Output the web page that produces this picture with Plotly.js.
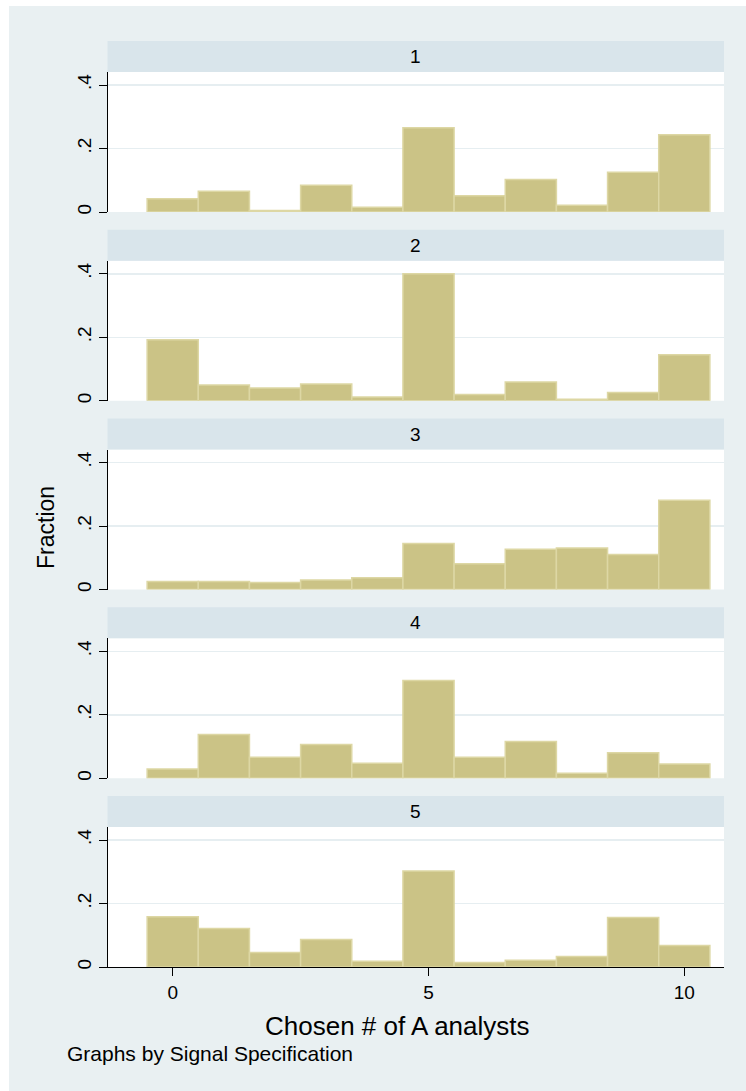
<!DOCTYPE html>
<html>
<head>
<meta charset="utf-8">
<script src="https://cdn.plot.ly/plotly-3.0.1.min.js"></script>
<style>
  html, body { margin: 0; padding: 0; background: #ffffff; }
  #chart { width: 746px; height: 1091px; }
</style>
</head>
<body>
<div id="chart"></div>
<script>
// ---- Data ----
const panelLabels = ["1", "2", "3", "4", "5"];
const chosenA = [0, 1, 2, 3, 4, 5, 6, 7, 8, 9, 10];
const fracSpec1 = [0.042, 0.065, 0.005, 0.084, 0.015, 0.265, 0.051, 0.102, 0.021, 0.125, 0.243];
const fracSpec2 = [0.192, 0.050, 0.040, 0.053, 0.012, 0.400, 0.020, 0.059, 0.005, 0.026, 0.145];
const fracSpec3 = [0.025, 0.025, 0.022, 0.030, 0.037, 0.145, 0.081, 0.127, 0.131, 0.110, 0.281];
const fracSpec4 = [0.029, 0.138, 0.066, 0.106, 0.047, 0.308, 0.066, 0.116, 0.016, 0.080, 0.045];
const fracSpec5 = [0.158, 0.121, 0.046, 0.087, 0.018, 0.302, 0.014, 0.021, 0.033, 0.156, 0.068];
const yTickVals = [0, 0.2, 0.4];
const yTickText = ["0", ".2", ".4"];
const xTickVals = [0, 5, 10];
const xTickText = ["0", "5", "10"];
const xTitle = "Chosen # of A analysts";
const yTitle = "Fraction";
const noteText = "Graphs by Signal Specification";

const series = [fracSpec1, fracSpec2, fracSpec3, fracSpec4, fracSpec5];

// ---- Layout geometry (pixels) ----
const W = 746, H = 1091;
const fx = x => x / W;
const fy = y => 1 - y / H;
const plotL = 108, plotR = 724;
const zero0 = 212, step = 188.75, plotH = 140, headH = 31;

const BG = "#e9f0f2";
const HEAD = "#d9e5eb";
const BAR = "#cbc386";
const BAR_LINE = "#ddd7a4";
const GRID = "#e6eef1";
const FONT = "Liberation Sans, Arial, Helvetica, sans-serif";

const data = [];
const layout = {
  width: W, height: H,
  margin: { l: 0, r: 0, t: 0, b: 0, pad: 0 },
  paper_bgcolor: BG,
  plot_bgcolor: "#ffffff",
  showlegend: false,
  bargap: 0,
  font: { family: FONT, color: "#000000" },
  shapes: [
    { type: "rect", xref: "paper", yref: "paper", x0: 0, x1: 1, y0: fy(6), y1: 1, fillcolor: "#ffffff", line: { width: 0 }, layer: "below" },
    { type: "rect", xref: "paper", yref: "paper", x0: 0, x1: fx(9), y0: 0, y1: 1, fillcolor: "#ffffff", line: { width: 0 }, layer: "below" }
  ],
  annotations: []
};

series.forEach((vals, i) => {
  const n = i + 1;
  const xa = "xaxis" + (n === 1 ? "" : n);
  const ya = "yaxis" + (n === 1 ? "" : n);
  const zeroY = zero0 + i * step;
  const topY = zeroY - plotH;
  const isLast = i === series.length - 1;

  data.push({
    type: "bar",
    x: chosenA,
    y: vals,
    width: 1,
    xaxis: "x" + (n === 1 ? "" : n),
    yaxis: "y" + (n === 1 ? "" : n),
    marker: { color: BAR, line: { color: BAR_LINE, width: 1.5 } },
    hoverinfo: "x+y"
  });

  layout[xa] = {
    domain: [fx(plotL), fx(plotR)],
    range: [-1.265, 10.776],
    anchor: "y" + (n === 1 ? "" : n),
    showgrid: false,
    zeroline: false,
    showline: isLast,
    linecolor: "#000000",
    linewidth: 1,
    ticks: isLast ? "outside" : "",
    ticklen: 8,
    tickwidth: 1,
    tickcolor: "#000000",
    tickvals: xTickVals,
    ticktext: xTickText,
    showticklabels: isLast,
    tickfont: { family: FONT, size: 19, color: "#000000" },
    fixedrange: true
  };
  layout[ya] = {
    domain: [fy(zeroY), fy(topY)],
    range: [0, plotH / 317.5],
    anchor: "x" + (n === 1 ? "" : n),
    showgrid: true,
    gridcolor: GRID,
    gridwidth: 1.5,
    zeroline: false,
    showline: true,
    linecolor: "#000000",
    linewidth: 1,
    ticks: "outside",
    ticklen: 8,
    tickwidth: 1,
    tickcolor: "#000000",
    tickvals: yTickVals,
    ticktext: yTickText,
    tickangle: -90,
    tickfont: { family: FONT, size: 19, color: "#000000" },
    fixedrange: true
  };

  layout.shapes.push({
    type: "rect", xref: "paper", yref: "paper",
    x0: fx(107.5), x1: fx(plotR), y0: fy(topY), y1: fy(topY - headH),
    fillcolor: HEAD, line: { width: 0 }, layer: "below"
  });
  layout.annotations.push({
    xref: "paper", yref: "paper",
    x: fx((107.5 + plotR) / 2), y: fy(topY - headH / 2),
    text: panelLabels[i], showarrow: false,
    xanchor: "center", yanchor: "middle",
    font: { family: FONT, size: 19, color: "#000000" }
  });
});

layout.annotations.push({
  xref: "paper", yref: "paper", x: fx(397), y: fy(1026),
  text: xTitle, showarrow: false, xanchor: "center", yanchor: "middle",
  font: { family: FONT, size: 26, color: "#000000" }
});
layout.annotations.push({
  xref: "paper", yref: "paper", x: fx(46), y: fy(528),
  text: yTitle, showarrow: false, textangle: -90, xanchor: "center", yanchor: "middle",
  font: { family: FONT, size: 23, color: "#000000" }
});
layout.annotations.push({
  xref: "paper", yref: "paper", x: fx(65), y: fy(1053),
  text: noteText, showarrow: false, xanchor: "left", yanchor: "middle",
  font: { family: FONT, size: 21, color: "#000000" }
});

Plotly.newPlot("chart", data, layout, { displayModeBar: false, staticPlot: true });
</script>
</body>
</html>
